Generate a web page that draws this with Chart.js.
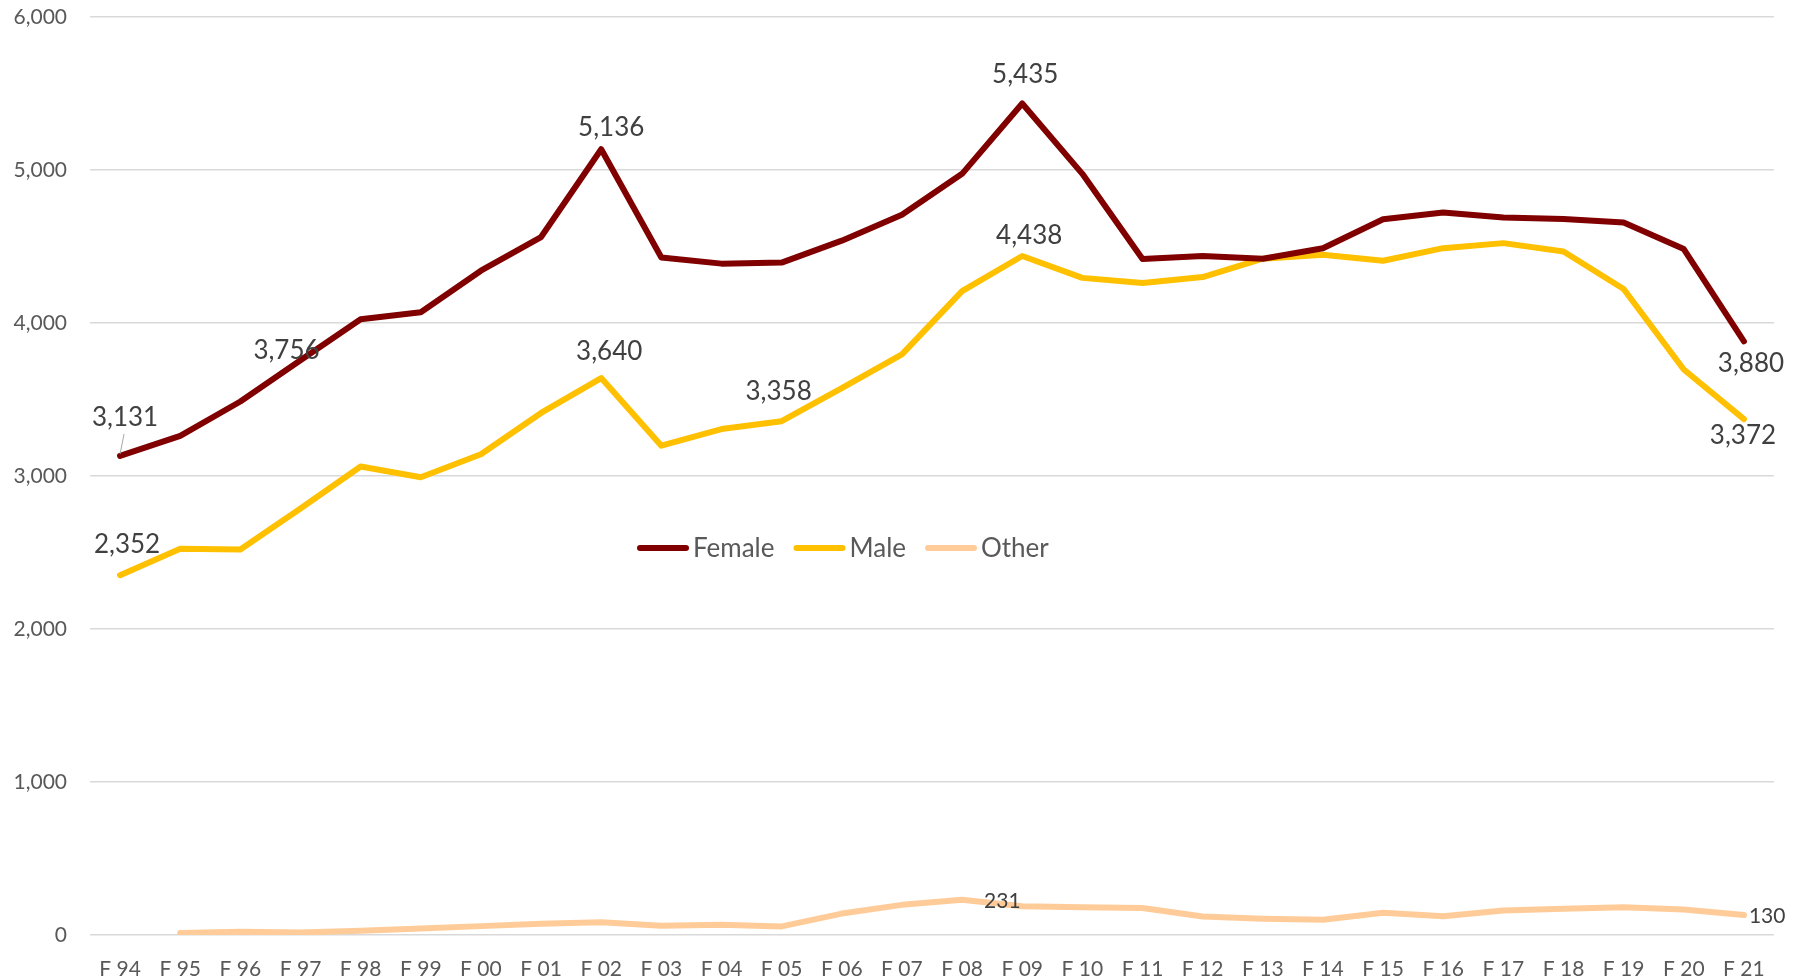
<!DOCTYPE html>
<html><head><meta charset="utf-8">
<script src="https://cdn.jsdelivr.net/npm/chart.js@4/dist/chart.umd.min.js"></script>
<style>html,body{margin:0;padding:0;background:#fff;}#wrap{width:1806px;height:980px;}</style>
</head><body><div id="wrap"><canvas id="c" width="1806" height="980"></canvas></div>
<script>
const categories = ['F 94','F 95','F 96','F 97','F 98','F 99','F 00','F 01','F 02','F 03','F 04','F 05','F 06','F 07','F 08','F 09','F 10','F 11','F 12','F 13','F 14','F 15','F 16','F 17','F 18','F 19','F 20','F 21'];
const female = [3131,3262,3487,3756,4025,4070,4342,4562,5136,4428,4388,4395,4538,4708,4975,5435,4975,4418,4438,4420,4489,4678,4722,4689,4680,4657,4483,3880];
const male   = [2352,2525,2520,2788,3062,2992,3142,3412,3640,3198,3307,3358,3575,3795,4208,4438,4295,4262,4300,4420,4446,4407,4489,4522,4467,4222,3696,3372];
const other  = [null,13,22,17,28,43,58,73,84,60,67,56,140,197,231,188,181,177,121,106,99,145,123,160,171,181,166,130];
const seriesNames = ['Female','Male','Other'];
const yTicks = [0,1000,2000,3000,4000,5000,6000];

const colors = ['#800000','#FFC000','#FFCC99'];
const FONT = 'Lato, "Open Sans", sans-serif';

// which points get a value label, and where it sits relative to the point (style only)
const labelSpecs = [
  {ds:0, i:0,  dx:5,  dy:-38, size:26, align:'center', leader:true},
  {ds:0, i:3,  dx:-14,dy:-10, size:26, align:'center'},
  {ds:0, i:8,  dx:10, dy:-22, size:26, align:'center'},
  {ds:0, i:15, dx:3,  dy:-29, size:26, align:'center'},
  {ds:0, i:27, dx:7,  dy:22,  size:26, align:'center'},
  {ds:1, i:0,  dx:7,  dy:-31, size:26, align:'center'},
  {ds:1, i:8,  dx:8,  dy:-26, size:26, align:'center'},
  {ds:1, i:11, dx:-3, dy:-30, size:26, align:'center'},
  {ds:1, i:15, dx:7,  dy:-20, size:26, align:'center'},
  {ds:1, i:27, dx:-1, dy:17,  size:26, align:'center'},
  {ds:2, i:14, dx:22, dy:2,   size:21, align:'left'},
  {ds:2, i:27, dx:5,  dy:1,   size:21, align:'left'}
];

const labelPlugin = {
  id:'valueLabels',
  afterDatasetsDraw(chart){
    const ctx = chart.ctx;
    ctx.save();
    labelSpecs.forEach(s=>{
      const pt = chart.getDatasetMeta(s.ds).data[s.i];
      const v = chart.data.datasets[s.ds].data[s.i];
      const x = pt.x + s.dx, y = pt.y + s.dy;
      if (s.leader){
        ctx.strokeStyle = '#A6A6A6'; ctx.lineWidth = 1;
        ctx.beginPath(); ctx.moveTo(pt.x, pt.y-2); ctx.lineTo(pt.x+4, y+16); ctx.stroke();
      }
      ctx.font = s.size + 'px ' + FONT;
      ctx.fillStyle = '#404040';
      ctx.textAlign = s.align; ctx.textBaseline = 'middle';
      ctx.fillText(v.toLocaleString('en-US'), x, y);
    });
    ctx.restore();
  }
};

const legendPlugin = {
  id:'innerLegend',
  afterDraw(chart){
    const ctx = chart.ctx, a = chart.chartArea;
    ctx.save();
    ctx.font = '26px ' + FONT;
    ctx.textBaseline = 'middle'; ctx.textAlign = 'left';
    let x = a.left + 547;
    const y = a.top + 531;
    chart.data.datasets.forEach((d,k)=>{
      ctx.strokeStyle = d.borderColor; ctx.lineWidth = 6; ctx.lineCap = 'round';
      ctx.beginPath(); ctx.moveTo(x+3, y); ctx.lineTo(x+49, y); ctx.stroke();
      x += 56;
      ctx.fillStyle = '#595959';
      ctx.fillText(d.label, x, y+1);
      x += ctx.measureText(d.label).width + 19;
    });
    ctx.restore();
  }
};

const datasets = [female, male, other].map((arr,k)=>({
  label: seriesNames[k], data: arr, borderColor: colors[k], backgroundColor: colors[k],
  borderWidth: 6, pointRadius: 0, tension: 0, borderJoinStyle:'round', borderCapStyle:'round', spanGaps:false
}));

new Chart(document.getElementById('c'), {
  type:'line',
  data:{labels: categories, datasets},
  plugins:[labelPlugin, legendPlugin],
  options:{
    responsive:false, animation:false, devicePixelRatio:1,
    layout:{padding:{top:17,right:32,bottom:0,left:0}},
    plugins:{legend:{display:false}, tooltip:{enabled:false}},
    scales:{
      x:{
        offset:true,
        grid:{display:false},
        border:{display:false},
        ticks:{color:'#595959', font:{family:FONT, size:21}, padding:14, maxRotation:0, autoSkip:false},
        afterFit(s){ s.height = 45; }
      },
      y:{
        min:0, max:6000,
        afterBuildTicks(s){ s.ticks = yTicks.map(v=>({value:v})); },
        grid:{color:'#D9D9D9', lineWidth:1.5, drawTicks:false},
        border:{display:false},
        ticks:{color:'#595959', font:{family:FONT, size:21}, padding:23,
          callback:v=>Number(v).toLocaleString('en-US')},
        afterFit(s){ s.width = 90; s.paddingTop = 10; s.paddingBottom = 10; }
      }
    }
  }
});
</script></body></html>
